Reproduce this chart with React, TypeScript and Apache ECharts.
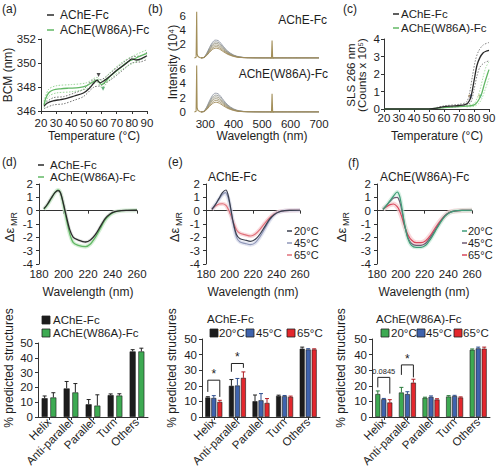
import React, { useEffect, useRef } from "react";
import * as echarts from "echarts";

const FF = "'Liberation Sans', Arial, Helvetica, sans-serif";
const TXT = "#1e1e1e";

// ---------- (a) BCM vs temperature ----------
const bcmAChE = [[22,346.4],[24,346.65],[28,346.85],[33,346.95],[37,347.05],[42,347.25],[48,347.5],[52,347.9],[55,348.35],[57,348.55],[59,348.35],[62,348.55],[66,348.95],[70,349.4],[74,349.75],[78,350.15],[80,350.35],[83,350.25],[86,350.35],[90,350.6]];
const bcmAChEUp = [[22,346.6],[28,347.1],[35,347.2],[42,347.5],[48,347.8],[55,348.6],[59,348.6],[66,349.2],[74,350.0],[80,350.5],[86,350.6],[90,350.9]];
const bcmAChELo = [[22,346.2],[28,346.5],[35,346.6],[42,346.9],[48,347.2],[55,348.0],[59,348.1],[66,348.6],[74,349.4],[80,350.0],[86,350.1],[90,350.3]];
const bcmW86A = [[22,346.5],[23,347.0],[25,347.5],[28,347.75],[33,347.85],[38,347.9],[45,347.95],[50,348.1],[54,348.4],[57,348.6],[60,348.2],[63,348.5],[66,348.95],[70,349.35],[74,349.8],[78,350.15],[81,350.3],[85,350.55],[90,350.8]];
const bcmW86AUp = [[22,346.8],[25,347.8],[30,348.1],[40,348.2],[50,348.35],[57,348.8],[60,348.5],[66,349.25],[74,350.1],[81,350.6],[90,351.1]];
const bcmW86ALo = [[22,346.3],[25,347.2],[30,347.5],[40,347.6],[50,347.85],[57,348.4],[60,347.95],[66,348.7],[74,349.5],[81,350.0],[90,350.5]];
const bcmMarkAChE = [[58, 349.0]];
const bcmMarkW86A = [[61, 347.85]];

// ---------- (b) intrinsic fluorescence spectra ----------
const specWl = [285,295,305,315,325,335,345,355,365,380,400,420,450,500,700];
const specTop = [
  [0,0.1,0.65,1.5,2.2,2.55,2.5,2.1,1.6,0.95,0.42,0.16,0.04,0,0],
  [0,0.09,0.58,1.35,1.98,2.3,2.25,1.9,1.44,0.85,0.38,0.14,0.03,0,0],
  [0,0.08,0.52,1.2,1.78,2.08,2.03,1.7,1.29,0.76,0.34,0.12,0.03,0,0],
  [0,0.07,0.46,1.07,1.58,1.85,1.8,1.52,1.15,0.68,0.3,0.11,0.02,0,0],
  [0,0.06,0.4,0.93,1.38,1.62,1.58,1.33,1.0,0.59,0.26,0.1,0.02,0,0],
  [0,0.05,0.35,0.8,1.2,1.4,1.36,1.15,0.87,0.51,0.22,0.08,0.02,0,0],
];
const specBot = [
  [0,0.1,0.68,1.55,2.28,2.62,2.55,2.15,1.62,0.96,0.43,0.16,0.04,0,0],
  [0,0.09,0.6,1.38,2.03,2.35,2.3,1.93,1.46,0.86,0.39,0.14,0.03,0,0],
  [0,0.08,0.53,1.22,1.8,2.1,2.05,1.72,1.3,0.77,0.34,0.12,0.03,0,0],
  [0,0.07,0.46,1.07,1.58,1.85,1.8,1.52,1.15,0.68,0.3,0.11,0.02,0,0],
  [0,0.06,0.4,0.92,1.36,1.6,1.56,1.31,0.99,0.58,0.26,0.09,0.02,0,0],
  [0,0.05,0.33,0.78,1.15,1.35,1.31,1.1,0.83,0.49,0.21,0.08,0.02,0,0],
];
const specColors = ["#8e95a3", "#939690", "#989582", "#9b9274", "#9e8e66", "#a08a58"];
const scatterTop = [[262,0],[268,0.1],[270,6.6],[271.5,0.6],[274,0.25],[280,0.08],[288,0]];
const scatterTop2 = [[528,0],[533,0.05],[535,2.5],[537,0.05],[542,0]];
const scatterBot = [[262,0],[268,0.1],[270,6.5],[271.5,0.6],[274,0.25],[280,0.08],[288,0]];
const scatterBot2 = [[528,0],[533,0.05],[535,2.55],[537,0.05],[542,0]];

// ---------- (c) SLS 266 nm ----------
const slsAChE = [[20,0],[30,0],[40,0],[50,0.01],[55,0.05],[60,0.13],[65,0.17],[70,0.2],[74,0.25],[76,0.35],[78,0.7],[80,1.6],[82,2.5],[84,2.95],[86,3.2],[88,3.3],[90,3.35]];
const slsAChEUp = [[55,0.08],[60,0.18],[70,0.27],[75,0.4],[77,0.9],[79,1.9],[81,2.8],[83,3.3],[86,3.65],[90,3.8]];
const slsAChELo = [[55,0.02],[60,0.08],[70,0.14],[75,0.2],[78,0.4],[80,1.1],[82,1.9],[84,2.4],[87,2.65],[90,2.75]];
const slsW86A = [[20,0],[40,0],[50,0.01],[55,0.04],[60,0.08],[65,0.11],[70,0.13],[75,0.16],[79,0.2],[81,0.28],[83,0.5],[85,0.85],[87,1.45],[89,2.0],[90,2.25]];
const slsW86AUp = [[75,0.2],[80,0.3],[82,0.6],[84,1.1],[86,1.8],[88,2.4],[90,2.7]];
const slsW86ALo = [[75,0.12],[80,0.15],[83,0.3],[85,0.55],[87,1.0],[89,1.5],[90,1.75]];
const slsStarAChE = [[77.5, 0.62]];
const slsStarW86A = [[84, 0.62]];

// ---------- (d) CD spectra ----------
const cdAChE = [[184,0.15],[187,0.5],[190,0.95],[193,1.35],[195.5,1.5],[197.5,1.35],[200,0.5],[202,-0.3],[205,-1.4],[208,-2.0],[212,-2.2],[218,-2.35],[222,-2.2],[226,-1.8],[230,-1.2],[234,-0.6],[238,-0.25],[242,-0.08],[247,0],[252,0.02],[260,0.03]];
const cdW86A = [[184,0.1],[187,0.45],[190,0.9],[193,1.35],[195.5,1.55],[197.5,1.35],[200,0.4],[202,-0.5],[205,-1.7],[208,-2.4],[212,-2.6],[218,-2.7],[222,-2.5],[226,-2.0],[230,-1.35],[234,-0.7],[238,-0.3],[242,-0.1],[247,0],[252,0.02],[260,0.03]];

// ---------- (e) AChE-Fc CD vs temperature ----------
const cdE20 = [[185,0.1],[188,0.45],[191,0.9],[194,1.35],[197,1.55],[199,1.1],[201,0.2],[203,-0.8],[206,-1.8],[209,-2.1],[213,-2.2],[218,-2.3],[222,-2.15],[226,-1.75],[230,-1.2],[234,-0.65],[238,-0.3],[242,-0.1],[247,0],[252,0.02],[260,0.03]];
const cdE45 = [[185,0.1],[188,0.45],[191,0.85],[194,1.2],[196.5,1.35],[199,0.9],[201,0.1],[203,-0.9],[206,-2.0],[209,-2.35],[213,-2.45],[218,-2.55],[222,-2.4],[226,-1.95],[230,-1.35],[234,-0.75],[238,-0.3],[242,-0.1],[247,0],[252,0.02],[260,0.03]];
const cdE65 = [[185,0.1],[188,0.35],[191,0.5],[194,0.52],[197,0.4],[199,0.1],[201,-0.3],[203,-0.8],[206,-1.45],[209,-1.7],[213,-1.8],[218,-1.9],[222,-1.75],[226,-1.4],[230,-0.95],[234,-0.55],[238,-0.25],[242,-0.08],[247,0],[252,0.02],[260,0.03]];

// ---------- (f) AChE(W86A)-Fc CD vs temperature ----------
const cdF20 = [[185,0.1],[188,0.4],[191,0.75],[194,1.1],[197,1.4],[199,1.1],[201,0.2],[203,-0.9],[206,-2.1],[209,-2.6],[213,-2.75],[217,-2.75],[221,-2.6],[225,-2.15],[229,-1.55],[233,-0.95],[237,-0.45],[241,-0.15],[246,-0.02],[252,0.02],[260,0.03]];
const cdF45 = [[185,0.1],[188,0.4],[191,0.7],[194,0.95],[197,1.0],[199,0.7],[201,0],[203,-1.0],[206,-2.0],[209,-2.45],[213,-2.6],[217,-2.6],[221,-2.45],[225,-2.0],[229,-1.45],[233,-0.9],[237,-0.4],[241,-0.15],[246,-0.02],[252,0.02],[260,0.03]];
const cdF65 = [[185,0.1],[188,0.3],[191,0.45],[194,0.5],[197,0.3],[199,0],[201,-0.5],[203,-1.1],[206,-1.8],[209,-2.2],[213,-2.4],[217,-2.4],[221,-2.25],[225,-1.85],[229,-1.3],[233,-0.8],[237,-0.4],[241,-0.12],[246,-0.02],[252,0.02],[260,0.03]];

// ---------- bottom: % predicted structures ----------
const structCats = ["Helix", "Anti-parallel", "Parallel", "Turn", "Others"];
const dAChE = [12.7, 19.3, 8.6, 14.8, 44.3];
const dAChEErr = [1.5, 4.7, 3.2, 0.8, 1.2];
const dW86A = [13.2, 16.6, 7.7, 14.5, 44.3];
const dW86AErr = [3.2, 6.0, 7.3, 1.2, 2.2];

const e20 = [12.5, 20.0, 10.1, 13.5, 43.8];
const e20Err = [0.5, 4.0, 4.0, 0.5, 1.0];
const e45 = [12.2, 20.2, 10.7, 13.3, 43.3];
const e45Err = [1.5, 4.5, 4.3, 0.5, 0.5];
const e65 = [9.7, 25.1, 9.0, 12.9, 43.3];
const e65Err = [1.0, 3.8, 2.8, 0.5, 0.4];
// [category, fromBar, toBar, top, leftEnd, rightEnd]
const eBrackets = [[0, 0, 2, 23.6, 16.1, 12.9], [1, 0, 2, 34.3, 29.0, 31.5]];
const eBracketLabels = ["*", "*"];

const f20 = [14.7, 15.7, 12.3, 13.1, 43.1];
const f20Err = [2.0, 3.3, 0.4, 0.6, 0.5];
const f45 = [11.4, 14.7, 12.9, 13.4, 44.0];
const f45Err = [0.5, 1.5, 0.6, 0.5, 0.8];
const f65 = [9.3, 22.0, 11.2, 12.5, 43.8];
const f65Err = [1.8, 2.2, 0.5, 0.4, 1.0];
const fBrackets = [[0, 0, 2, 25.4, 19.0, 15.0], [1, 0, 2, 33.4, 27.0, 25.4]];
const fBracketLabels = ["0.0845", "*"];

// ---------- colours ----------
const C_BLACK = "#2a2a2a";
const C_GREEN = "#62b865";
const C_E20 = "#3a3f4e";
const C_E45 = "#8f97b8";
const C_E65 = "#e0707a";
const C_F20 = "#3f9d78";
const C_F45 = "#6e5a73";
const C_F65 = "#d9485c";
const B_BLACK = "#1c1c1c";
const B_GREEN = "#3daa52";
const B_BLUE = "#3f63ad";
const B_RED = "#e3272d";

// ---------- helpers ----------
const T = (text: string, x: number, y: number, o: any = {}) => ({
  type: "text",
  x,
  y,
  rotation: o.rot || 0,
  silent: true,
  z: 100,
  style: {
    text,
    fill: o.color || TXT,
    fontSize: o.size || 12,
    fontFamily: FF,
    textAlign: o.align || "left",
    textVerticalAlign: o.va || "middle",
  },
});
const L = (x1: number, y1: number, x2: number, y2: number, color: string, w = 1.5) => ({
  type: "line",
  silent: true,
  z: 100,
  shape: { x1, y1, x2, y2 },
  style: { stroke: color, lineWidth: w },
});
const R = (x: number, y: number, w: number, h: number, color: string) => ({
  type: "rect",
  silent: true,
  z: 100,
  shape: { x, y, width: w, height: h },
  style: { fill: color, stroke: "#222", lineWidth: 0.8 },
});

const axLine = { show: true, lineStyle: { color: "#333", width: 1 } };
const axTick = { show: true, length: 3, lineStyle: { color: "#333", width: 1 } };
const lbl = (margin: number, extra: any = {}) => ({
  color: TXT,
  fontFamily: FF,
  fontSize: 11.5,
  margin,
  hideOverlap: false,
  ...extra,
});

function valAxis(gi: number, min: number, max: number, interval: number, margin: number, extra: any = {}) {
  return {
    type: "value",
    gridIndex: gi,
    min,
    max,
    interval,
    axisLine: axLine,
    axisTick: axTick,
    axisLabel: lbl(margin),
    splitLine: { show: false },
    ...extra,
  };
}

const lineS = (data: any, ai: number, color: string, width = 1.2, extra: any = {}) => ({
  type: "line",
  xAxisIndex: ai,
  yAxisIndex: ai,
  data,
  symbol: "none",
  smooth: 0.3,
  lineStyle: { color, width },
  silent: true,
  ...extra,
});

function barOffset(k: number, n: number, bw: number, gap: number) {
  return (k - (n - 1) / 2) * bw * (1 + gap);
}

const barS = (ai: number, data: number[], color: string, bw: number, gap: number) => ({
  type: "bar",
  xAxisIndex: ai,
  yAxisIndex: ai,
  data,
  barWidth: bw,
  barGap: `${gap * 100}%`,
  itemStyle: { color, borderColor: "#1a1a1a", borderWidth: 0.6 },
  silent: true,
});

function errS(ai: number, vals: number[], errs: number[], k: number, n: number, bw: number, gap: number, color: string) {
  const off = barOffset(k, n, bw, gap);
  return {
    type: "custom",
    xAxisIndex: ai,
    yAxisIndex: ai,
    z: 4,
    silent: true,
    data: vals.map((v, i) => [i, v, errs[i]]),
    renderItem: (_p: any, api: any) => {
      const i = api.value(0);
      const v = api.value(1);
      const e = api.value(2);
      const p0 = api.coord([i, v]);
      const p1 = api.coord([i, v + e]);
      const x = p0[0] + off;
      return {
        type: "group",
        children: [
          { type: "line", shape: { x1: x, y1: p0[1], x2: x, y2: p1[1] }, style: { stroke: color, lineWidth: 1 } },
          { type: "line", shape: { x1: x - 2, y1: p1[1], x2: x + 2, y2: p1[1] }, style: { stroke: color, lineWidth: 1 } },
        ],
      };
    },
  };
}

function bracketS(ai: number, rows: number[][], labels: string[], n: number, bw: number, gap: number) {
  return {
    type: "custom",
    xAxisIndex: ai,
    yAxisIndex: ai,
    z: 5,
    silent: true,
    data: rows,
    renderItem: (p: any, api: any) => {
      const c = api.value(0);
      const fromK = api.value(1);
      const toK = api.value(2);
      const top = api.coord([c, api.value(3)]);
      const le = api.coord([c, api.value(4)]);
      const re = api.coord([c, api.value(5)]);
      const xl = top[0] + barOffset(fromK, n, bw, gap);
      const xr = top[0] + barOffset(toK, n, bw, gap);
      const label = labels[p.dataIndex];
      const small = label.length > 1;
      return {
        type: "group",
        children: [
          {
            type: "polyline",
            shape: { points: [[xl, le[1]], [xl, top[1]], [xr, top[1]], [xr, re[1]]] },
            style: { stroke: "#222", lineWidth: 1, fill: "none" },
          },
          {
            type: "text",
            x: (xl + xr) / 2,
            y: top[1] - (small ? 2 : 0),
            style: {
              text: label,
              fill: TXT,
              fontSize: small ? 7.5 : 12,
              fontFamily: FF,
              textAlign: "center",
              textVerticalAlign: "bottom",
            },
          },
        ],
      };
    },
  };
}

function buildOption() {
  const gridDefs = [
    { left: 41, top: 39, width: 106, height: 72 }, // 0 a
    { left: 191, top: 16, width: 128, height: 42 }, // 1 b top
    { left: 191, top: 69, width: 128, height: 43 }, // 2 b bottom
    { left: 384, top: 39, width: 105, height: 70 }, // 3 c
    { left: 39, top: 184, width: 98, height: 80 }, // 4 d
    { left: 206, top: 184, width: 94, height: 80 }, // 5 e
    { left: 377, top: 184, width: 95, height: 80 }, // 6 f
    { left: 38, top: 343, width: 110, height: 74 }, // 7 d bar
    { left: 202, top: 339, width: 118, height: 78 }, // 8 e bar
    { left: 372, top: 339, width: 118, height: 78 }, // 9 f bar
  ];
  const grid = gridDefs.map((g) => ({ ...g, containLabel: false, outerBoundsMode: "none", show: false }));

  const noLine = { show: false };
  const xAxis: any[] = [
    valAxis(0, 20, 90, 10, 6),
    {
      type: "value", gridIndex: 1, min: 250, max: 700, interval: 50,
      axisLine: noLine, axisTick: noLine, axisLabel: { show: false }, splitLine: { show: false },
    },
    {
      type: "value", gridIndex: 2, min: 250, max: 700, interval: 50,
      axisLine: noLine, axisTick: noLine, splitLine: { show: false },
      axisLabel: lbl(6, { formatter: (v: number) => (v % 100 === 0 ? String(v) : "") }),
    },
    valAxis(3, 20, 90, 10, 3),
    valAxis(4, 180, 260, 20, 4),
    valAxis(5, 180, 260, 20, 4),
    valAxis(6, 180, 260, 20, 4),
  ];
  [7, 8, 9].forEach((gi) =>
    xAxis.push({
      type: "category",
      gridIndex: gi,
      data: structCats,
      axisLine: axLine,
      axisTick: { ...axTick, alignWithLabel: true },
      axisLabel: lbl(3, { rotate: 45, interval: 0, fontSize: 11.5 }),
      splitLine: { show: false },
    })
  );

  const yAxis: any[] = [
    valAxis(0, 346, 352, 2, 5),
    {
      type: "value", gridIndex: 1, min: 0, max: 6, interval: 2,
      axisLine: noLine, axisTick: noLine, splitLine: { show: false },
      axisLabel: lbl(5, { formatter: (v: number) => (v === 0 ? "" : String(v)) }),
    },
    {
      type: "value", gridIndex: 2, min: 0, max: 6, interval: 2,
      axisLine: noLine, axisTick: noLine, splitLine: { show: false },
      axisLabel: lbl(5),
    },
    valAxis(3, 0, 4, 1, 4),
    valAxis(4, -4, 2, 1, 6),
    valAxis(5, -4, 2, 1, 6),
    valAxis(6, -4, 2, 1, 6),
    valAxis(7, 0, 50, 10, 5),
    valAxis(8, 0, 50, 10, 5),
    valAxis(9, 0, 50, 10, 5),
  ];

  const series: any[] = [];
  // (a)
  const dotA = (c: string) => ({ lineStyle: { color: c, width: 0.9, type: [1.5, 1.5] } });
  series.push(lineS(bcmAChEUp, 0, "#666", 0.9, dotA("#666")));
  series.push(lineS(bcmAChELo, 0, "#666", 0.9, dotA("#666")));
  series.push(lineS(bcmW86AUp, 0, "#8fd08c", 0.9, dotA("#8fd08c")));
  series.push(lineS(bcmW86ALo, 0, "#8fd08c", 0.9, dotA("#8fd08c")));
  series.push(lineS(bcmW86A, 0, C_GREEN, 1.3));
  series.push(lineS(bcmAChE, 0, C_BLACK, 1.3));
  series.push({ type: "scatter", xAxisIndex: 0, yAxisIndex: 0, data: bcmMarkAChE, symbol: "triangle", symbolRotate: 180, symbolSize: 4, itemStyle: { color: "#222" }, silent: true });
  series.push({ type: "scatter", xAxisIndex: 0, yAxisIndex: 0, data: bcmMarkW86A, symbol: "triangle", symbolRotate: 180, symbolSize: 4, itemStyle: { color: "#3a9a5a" }, silent: true });

  // (b)
  const specPairs = (arr: number[]) => specWl.map((w, i) => [w, arr[i]]);
  specTop.forEach((arr, k) => series.push(lineS(specPairs(arr), 1, specColors[k], 0.9)));
  specBot.forEach((arr, k) => series.push(lineS(specPairs(arr), 2, specColors[k], 0.9)));
  [scatterTop, scatterTop2].forEach((d) => series.push(lineS(d, 1, "#a38f5a", 1.1, { smooth: false, clip: false })));
  [scatterBot, scatterBot2].forEach((d) => series.push(lineS(d, 2, "#a38f5a", 1.1, { smooth: false, clip: false })));

  // (c)
  const dot = (c: string) => ({ lineStyle: { color: c, width: 0.9, type: [1.5, 1.5] } });
  series.push(lineS(slsAChEUp, 3, "#777", 0.9, dot("#777")));
  series.push(lineS(slsAChELo, 3, "#777", 0.9, dot("#777")));
  series.push(lineS(slsW86AUp, 3, "#a5dba3", 0.9, dot("#a5dba3")));
  series.push(lineS(slsW86ALo, 3, "#a5dba3", 0.9, dot("#a5dba3")));
  series.push(lineS(slsW86A, 3, C_GREEN, 1.3));
  series.push(lineS(slsAChE, 3, C_BLACK, 1.3));
  const starS = (d: any, color: string) => ({
    type: "scatter", xAxisIndex: 3, yAxisIndex: 3, data: d, symbolSize: 0, silent: true,
    label: { show: true, formatter: "*", position: "inside", color, fontSize: 10, fontFamily: FF },
  });
  series.push(starS(slsStarAChE, "#222"));
  series.push(starS(slsStarW86A, "#3a9a5a"));

  // (d)
  series.push(lineS(cdW86A, 4, "#c4e8c4", 4, { lineStyle: { color: "#c4e8c4", width: 4, opacity: 0.7 } }));
  series.push(lineS(cdAChE, 4, "#d8d8d8", 3, { lineStyle: { color: "#d8d8d8", width: 3, opacity: 0.7 } }));
  series.push(lineS(cdW86A, 4, C_GREEN, 1.3));
  series.push(lineS(cdAChE, 4, C_BLACK, 1.3));

  // (e)
  series.push(lineS(cdE65, 5, "#f6c9cd", 4, { lineStyle: { color: "#f6c9cd", width: 4, opacity: 0.7 } }));
  series.push(lineS(cdE45, 5, "#d5d9ea", 4, { lineStyle: { color: "#d5d9ea", width: 4, opacity: 0.7 } }));
  series.push(lineS(cdE65, 5, C_E65, 1.2));
  series.push(lineS(cdE45, 5, C_E45, 1.2));
  series.push(lineS(cdE20, 5, C_E20, 1.2));

  // (f)
  series.push(lineS(cdF65, 6, "#f6c9cd", 4, { lineStyle: { color: "#f6c9cd", width: 5, opacity: 0.7 } }));
  series.push(lineS(cdF20, 6, "#c9ead8", 4, { lineStyle: { color: "#c9ead8", width: 4, opacity: 0.7 } }));
  series.push(lineS(cdF65, 6, C_F65, 1.2));
  series.push(lineS(cdF45, 6, C_F45, 1.2));
  series.push(lineS(cdF20, 6, C_F20, 1.2));

  // (d) bars
  const dbw = 6, dgap = 0.45;
  series.push(barS(7, dAChE, B_BLACK, dbw, dgap));
  series.push(barS(7, dW86A, B_GREEN, dbw, dgap));
  series.push(errS(7, dAChE, dAChEErr, 0, 2, dbw, dgap, "#222"));
  series.push(errS(7, dW86A, dW86AErr, 1, 2, dbw, dgap, "#222"));

  // (e) bars
  const ebw = 5, egap = 0.2;
  series.push(barS(8, e20, B_BLACK, ebw, egap));
  series.push(barS(8, e45, B_BLUE, ebw, egap));
  series.push(barS(8, e65, B_RED, ebw, egap));
  series.push(errS(8, e20, e20Err, 0, 3, ebw, egap, "#222"));
  series.push(errS(8, e45, e45Err, 1, 3, ebw, egap, "#2f4f8f"));
  series.push(errS(8, e65, e65Err, 2, 3, ebw, egap, "#b01c22"));
  series.push(bracketS(8, eBrackets, eBracketLabels, 3, ebw, egap));

  // (f) bars
  series.push(barS(9, f20, B_GREEN, ebw, egap));
  series.push(barS(9, f45, B_BLUE, ebw, egap));
  series.push(barS(9, f65, B_RED, ebw, egap));
  series.push(errS(9, f20, f20Err, 0, 3, ebw, egap, "#2a7a3a"));
  series.push(errS(9, f45, f45Err, 1, 3, ebw, egap, "#2f4f8f"));
  series.push(errS(9, f65, f65Err, 2, 3, ebw, egap, "#b01c22"));
  series.push(bracketS(9, fBrackets, fBracketLabels, 3, ebw, egap));

  const V = Math.PI / 2;
  const LG = 11;
  const graphic: any[] = [
    // panel letters
    T("(a)", 2, 9), T("(b)", 148, 9), T("(c)", 343, 9),
    T("(d)", 2, 162), T("(e)", 168, 162), T("(f)", 348, 163),
    // (a)
    L(47, 15, 54, 15, C_BLACK), T("AChE-Fc", 60, 15),
    L(47, 30, 54, 30, C_GREEN), T("AChE(W86A)-Fc", 60, 30),
    T("BCM (nm)", 8, 75, { rot: V, align: "center" }),
    T("Temperature (°C)", 94, 136, { align: "center" }),
    // (b)
    T("AChE-Fc", 327, 20, { align: "right" }),
    T("AChE(W86A)-Fc", 328, 74, { align: "right" }),
    T("Intensity (10⁴)", 173, 62, { rot: V, align: "center" }),
    T("Wavelength (nm)", 262, 136, { align: "center" }),
    // (c)
    L(393, 14, 399, 14, C_BLACK), T("AChE-Fc", 401, 14, { size: 11.5 }),
    L(393, 28, 399, 28, C_GREEN), T("AChE(W86A)-Fc", 401, 28, { size: 11.5 }),
    T("SLS 266 nm", 351, 75, { rot: V, align: "center", size: 11.5 }),
    T("(Counts x 10⁵)", 362, 75, { rot: V, align: "center", size: 11.5 }),
    T("Temperature (°C)", 437, 136, { align: "center" }),
    // (d)
    L(38, 165, 44, 165, C_BLACK), T("AChE-Fc", 50, 165, { size: 11.5 }),
    L(38, 177, 44, 177, C_GREEN), T("AChE(W86A)-Fc", 50, 177, { size: 11.5 }),
    T("Δε", 9, 235, { rot: V, align: "center", size: 13 }),
    T("MR", 14, 219, { rot: V, align: "center", size: 9 }),
    T("Wavelength (nm)", 88, 292, { align: "center" }),
    // (e)
    T("AChE-Fc", 208, 177),
    L(287, 231, 292, 231, C_E20), T("20°C", 294, 231, { size: LG }),
    L(287, 243, 292, 243, C_E45), T("45°C", 294, 243, { size: LG }),
    L(287, 255, 292, 255, C_E65), T("65°C", 294, 255, { size: LG }),
    T("Δε", 174, 235, { rot: V, align: "center", size: 13 }),
    T("MR", 179, 219, { rot: V, align: "center", size: 9 }),
    T("Wavelength (nm)", 253, 292, { align: "center" }),
    // (f)
    T("AChE(W86A)-Fc", 380, 177),
    L(462, 231, 467, 231, C_F20), T("20°C", 468, 231, { size: LG }),
    L(462, 243, 467, 243, C_F45), T("45°C", 468, 243, { size: LG }),
    L(462, 255, 467, 255, C_F65), T("65°C", 468, 255, { size: LG }),
    T("Δε", 341, 235, { rot: V, align: "center", size: 13 }),
    T("MR", 346, 219, { rot: V, align: "center", size: 9 }),
    T("Wavelength (nm)", 424, 292, { align: "center" }),
    // (d) bar
    R(42, 316, 8, 8, B_BLACK), T("AChE-Fc", 53, 320, { size: 11.5 }),
    R(42, 329, 8, 8, B_GREEN), T("AChE(W86A)-Fc", 53, 333, { size: 11.5 }),
    T("% predicted structures", 9, 368, { rot: V, align: "center" }),
    // (e) bar
    T("AChE-Fc", 207, 319, { size: 11.5 }),
    R(210, 329, 8, 8, B_BLACK), T("20°C", 219, 333, { size: 11.5 }),
    R(246, 329, 8, 8, B_BLUE), T("45°C", 256, 333, { size: 11.5 }),
    R(287, 329, 8, 8, B_RED), T("65°C", 297, 333, { size: 11.5 }),
    T("% predicted structures", 172, 368, { rot: V, align: "center" }),
    // (f) bar
    T("AChE(W86A)-Fc", 376, 319, { size: 11.5 }),
    R(381, 329, 8, 8, B_GREEN), T("20°C", 391, 333, { size: 11.5 }),
    R(417, 329, 8, 8, B_BLUE), T("45°C", 426, 333, { size: 11.5 }),
    R(454, 329, 8, 8, B_RED), T("65°C", 463, 333, { size: 11.5 }),
    T("% predicted structures", 341, 368, { rot: V, align: "center" }),
  ];

  return {
    animation: false,
    backgroundColor: "#ffffff",
    textStyle: { fontFamily: FF },
    grid,
    xAxis,
    yAxis,
    series,
    graphic,
  };
}

export default function App() {
  const ref = useRef<HTMLDivElement>(null);
  useEffect(() => {
    if (!ref.current) return;
    const chart = echarts.init(ref.current, null, { renderer: "svg" });
    chart.setOption(buildOption() as any);
    return () => chart.dispose();
  }, []);
  return (
    <div
      ref={ref}
      style={{ position: "fixed", left: 0, top: 0, width: 500, height: 468, background: "#fff" }}
    />
  );
}
